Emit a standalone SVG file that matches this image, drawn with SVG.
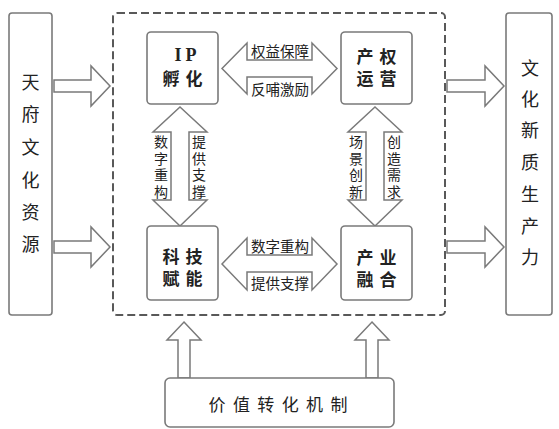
<svg xmlns="http://www.w3.org/2000/svg" width="559" height="429" viewBox="0 0 559 429">
<style>
.box{fill:#fff;stroke:#7a7a7a;stroke-width:1.6}
.arr{fill:#fff;stroke:#7a7a7a;stroke-width:1.5;stroke-linejoin:miter}
.dash{fill:none;stroke:#595959;stroke-width:2;stroke-dasharray:8 4}
.t{font-family:"Noto Sans CJK SC","Noto Sans",sans-serif;fill:#222;text-anchor:middle;dominant-baseline:central}
.big{font-size:18px}
.lab{font-size:14.5px}
.vl{font-size:14px}
.nd{font-size:17px;font-weight:bold}
.ser{font-family:"Liberation Serif",serif;font-size:18px;font-weight:bold;fill:#222;text-anchor:middle;dominant-baseline:central}
</style>
<rect width="559" height="429" fill="#fff"/>
<g id="dashed-frame"><rect class="dash" x="113" y="13" width="332" height="302" rx="4"/></g>
<g id="connectors">
<path class="arr" d="M54,80 H91 V66 L110,86 L91,106 V92 H54 Z"/>
<path class="arr" d="M54,241 H91 V227 L110,247 L91,267 V253 H54 Z"/>
<path class="arr" d="M447,80 H485 V66 L504,86 L485,106 V92 H447 Z"/>
<path class="arr" d="M447,241 H485 V227 L504,247 L485,267 V253 H447 Z"/>
<path class="arr" d="M222,68.5 L247,43 V60 H312 V43 L337,68.5 L312,94 V77 H247 V94 Z"/>
<path class="arr" d="M222,264 L247,238 V255 H312 V238 L337,264 L312,290 V272 H247 V290 Z"/>
<path class="arr" d="M180,107 L207,132 H189 V200 H207 L180,226 L153,200 H171 V132 H153 Z"/>
<path class="arr" d="M375,107 L402,132 H384 V200 H402 L375,226 L348,200 H366 V132 H348 Z"/>
<path class="arr" d="M184,322 L201,340 H190 V378 H178 V340 H167 Z"/>
<path class="arr" d="M372,322 L389,340 H378 V378 H366 V340 H355 Z"/>
<text class="t lab" x="280" y="50">权益保障</text>
<text class="t lab" x="280" y="88">反哺激励</text>
<text class="t lab" x="280" y="245">数字重构</text>
<text class="t lab" x="280" y="282">提供支撑</text>
<text class="t vl"><tspan x="161" y="141">数</tspan><tspan x="161" y="157.5">字</tspan><tspan x="161" y="174">重</tspan><tspan x="161" y="190.5">构</tspan></text>
<text class="t vl"><tspan x="199" y="141">提</tspan><tspan x="199" y="157.5">供</tspan><tspan x="199" y="174">支</tspan><tspan x="199" y="190.5">撑</tspan></text>
<text class="t vl"><tspan x="356" y="141">场</tspan><tspan x="356" y="157.5">景</tspan><tspan x="356" y="174">创</tspan><tspan x="356" y="190.5">新</tspan></text>
<text class="t vl"><tspan x="394" y="141">创</tspan><tspan x="394" y="157.5">造</tspan><tspan x="394" y="174">需</tspan><tspan x="394" y="190.5">求</tspan></text>
</g>
<g id="node-source">
<rect class="box" x="9" y="13" width="43" height="302" rx="3"/>
<text class="t big"><tspan x="30.5" y="81">天</tspan><tspan x="30.5" y="113">府</tspan><tspan x="30.5" y="146">文</tspan><tspan x="30.5" y="179">化</tspan><tspan x="30.5" y="211">资</tspan><tspan x="30.5" y="243">源</tspan></text>
</g>
<g id="node-output">
<rect class="box" x="506" y="13" width="46" height="302" rx="3"/>
<text class="t big"><tspan x="530" y="67">文</tspan><tspan x="530" y="98">化</tspan><tspan x="530" y="129">新</tspan><tspan x="530" y="161">质</tspan><tspan x="530" y="193">生</tspan><tspan x="530" y="225">产</tspan><tspan x="530" y="256">力</tspan></text>
</g>
<g id="node-ip">
<rect class="box" x="147" y="32" width="71" height="72" rx="4"/>
<text class="ser" x="178 191" y="55">IP</text>
<text class="t nd" x="171 194" y="77">孵化</text>
</g>
<g id="node-rights">
<rect class="box" x="341" y="32" width="71" height="72" rx="4"/>
<text class="t nd" x="365 388" y="55">产权</text>
<text class="t nd" x="365 388" y="77">运营</text>
</g>
<g id="node-tech">
<rect class="box" x="147" y="226" width="71" height="74" rx="4"/>
<text class="t nd" x="171 194" y="255">科技</text>
<text class="t nd" x="171 194" y="277">赋能</text>
</g>
<g id="node-industry">
<rect class="box" x="341" y="226" width="71" height="74" rx="4"/>
<text class="t nd" x="365 388" y="256">产业</text>
<text class="t nd" x="365 388" y="278">融合</text>
</g>
<g id="node-value">
<rect class="box" x="165" y="378" width="229" height="49" rx="5"/>
<text class="t" style="font-size:17px" x="217 241.4 265.8 290.2 314.6 339" y="403">价值转化机制</text>
</g>
</svg>
